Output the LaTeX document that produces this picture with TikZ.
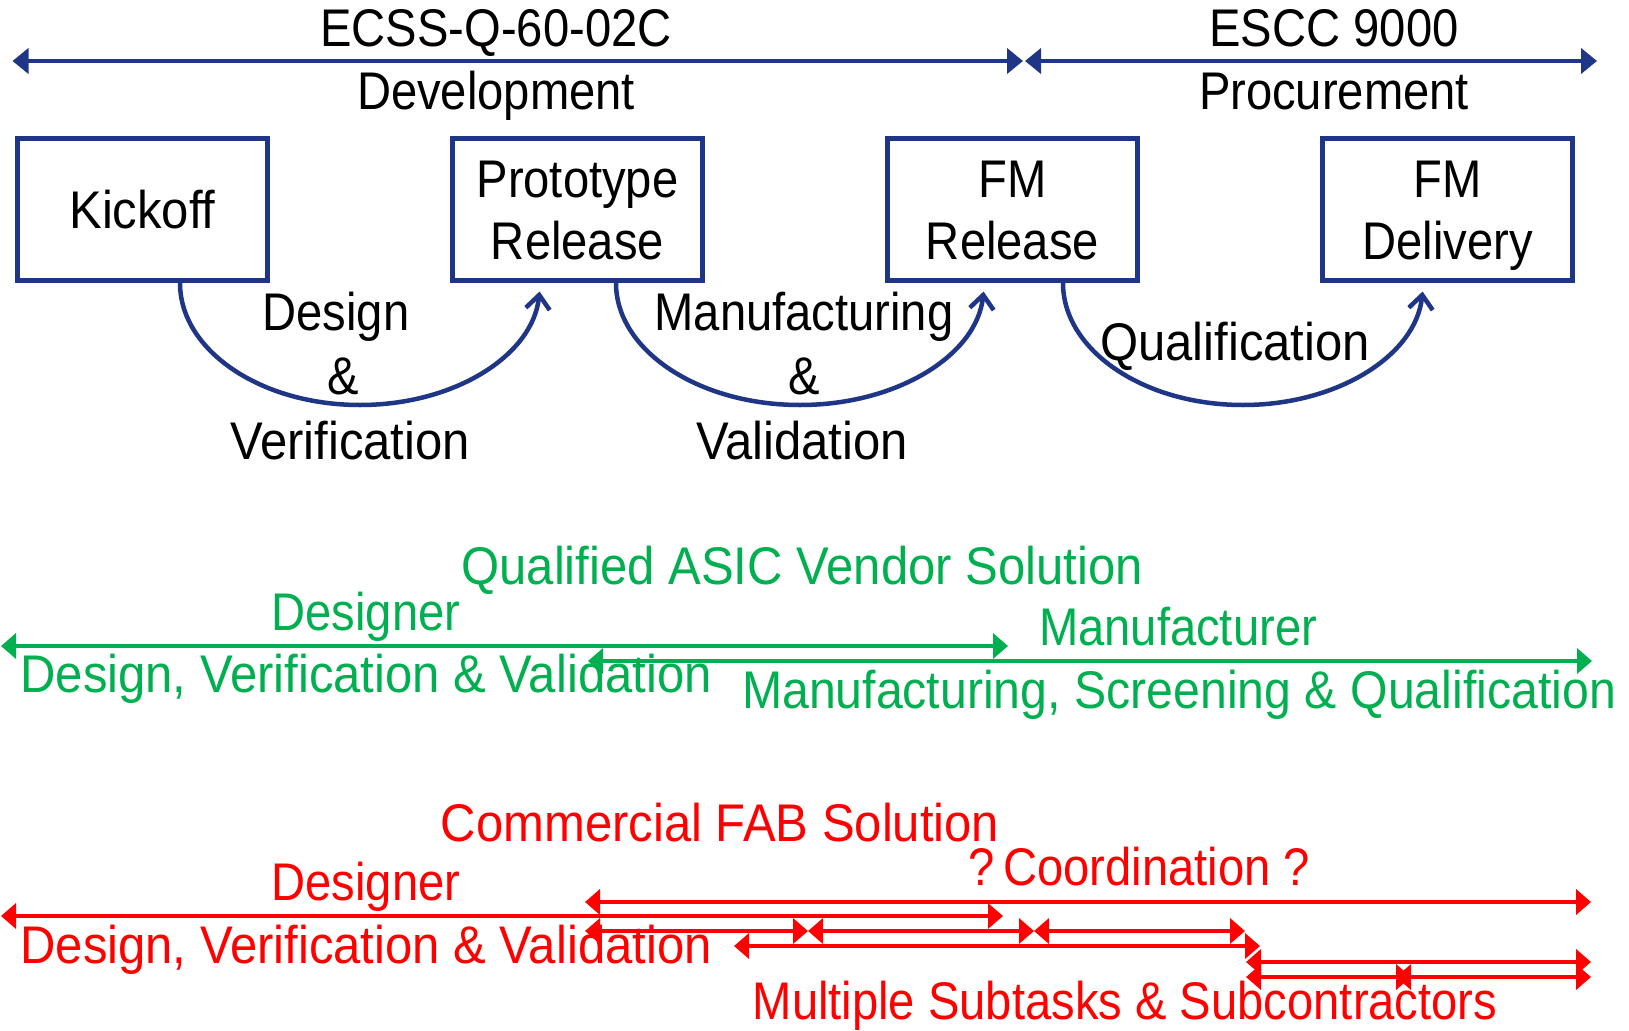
\documentclass[tikz,border=0pt]{standalone}
\usepackage{fontspec}
\setmainfont[FakeStretch=0.89]{Liberation Sans}
\newfontfamily\midfont[FakeStretch=0.91]{Liberation Sans}
\newfontfamily\widefont[FakeStretch=0.925]{Liberation Sans}
\usetikzlibrary{arrows.meta,calc}
\definecolor{navy}{RGB}{31,53,133}
\definecolor{vgreen}{RGB}{0,176,80}
\definecolor{vred}{RGB}{255,0,0}
% line of box text with a fixed cap height and no depth
\newcommand{\capln}[1]{\raisebox{0pt}[38pt][0pt]{#1}}
\begin{document}
\begin{tikzpicture}[x=1pt,y=1pt,
  every node/.style={font=\fontsize{53}{62}\selectfont, inner sep=0pt},
  stagebox/.style={draw=navy, line width=5pt, minimum width=250pt,
    minimum height=142pt, align=center},
  lbl/.style={anchor=base},
  wlbl/.style={anchor=base, font=\fontsize{53}{62}\widefont},
  mlbl/.style={anchor=base, font=\fontsize{53}{62}\midfont},
  spanarrow/.style={line width=4.5pt,
    {Triangle[length=15pt,width=25pt]}-{Triangle[length=15pt,width=25pt]}},
  phasearrow/.style={draw=navy, line width=4pt,
    {Triangle[length=16pt,width=25pt]}-{Triangle[length=16pt,width=25pt]}},
  flowarc/.style={draw=navy, line width=4.5pt,
    -{Straight Barb[length=14pt,width=24pt]}},
]
\useasboundingbox (0,0) rectangle (1629,-1030);
\fill[white] (0,0) rectangle (1629,-1030);

% ---------- standards / phases ----------
\coordinate (devL) at (12.5,-61);
\coordinate (devR) at (1023,-61);
\coordinate (proL) at (1025,-61);
\coordinate (proR) at (1597,-61);
\draw[phasearrow] (devL) -- (devR);
\draw[phasearrow] (proL) -- (proR);
\node[lbl] (ecss) at (496,-47) {ECSS-Q-60-02C};
\node[lbl] (escc) at (1334,-47) {ESCC 9000};
\node[lbl] (dev) at (496,-110) {Development};
\node[lbl] (proc) at (1334,-110) {Procurement};

% ---------- milestones ----------
\node[stagebox, font=\fontsize{53}{62}\widefont] (kick) at (142.5,-209.5) {\capln{Kickoff}};
\node[stagebox] (proto) at (577.5,-209.5)  {\capln{Prototype}\\\capln{Release}};
\node[stagebox] (fmrel) at (1012.5,-209.5) {\capln{FM}\\\capln{Release}};
\node[stagebox] (fmdel) at (1447.5,-209.5) {\capln{FM}\\\capln{Delivery}};

% ---------- activities between milestones ----------
\draw[flowarc] ([xshift=37.5pt]kick.south)
  arc[start angle=180, end angle=356, x radius=180, y radius=122];
\draw[flowarc] ([xshift=38.5pt]proto.south)
  arc[start angle=180, end angle=356, x radius=184, y radius=122];
\draw[flowarc] ([xshift=50.5pt]fmrel.south)
  arc[start angle=180, end angle=356, x radius=180, y radius=122];

\node[lbl] (dv1) at (336,-330) {Design};
\node[lbl] (dv2) at (343,-394) {\&};
\node[wlbl] (dv3) at (350,-459) {Verification};
\node[lbl] (mv1) at (804,-330) {Manufacturing};
\node[lbl] (mv2) at (804,-394) {\&};
\node[wlbl] (mv3) at (802,-459) {Validation};
\node[wlbl] (qual) at (1235,-360) {Qualification};

% ---------- qualified ASIC vendor ----------
\begin{scope}[color=vgreen]
\node[wlbl] (qavs) at (802,-584) {Qualified ASIC Vendor Solution};
\node[lbl] (gdes) at (366,-630) {Designer};
\node[lbl] (gman) at (1178,-645) {Manufacturer};
\node[wlbl] (gdvv) at (366,-692) {Design, Verification \& Validation};
\node[mlbl] (gmsq) at (1179,-708) {Manufacturing, Screening \& Qualification};
\coordinate (g1a) at (1,-646);
\coordinate (g1b) at (1008,-646);
\coordinate (g2a) at (588,-661);
\coordinate (g2b) at (1592,-661);
\draw[spanarrow] (g1a) -- (g1b);
\draw[spanarrow] (g2a) -- (g2b);
\end{scope}

% ---------- commercial fab ----------
\begin{scope}[color=vred]
\node[wlbl] (cfab) at (720,-841) {Commercial FAB Solution};
\node[lbl] (coord) at (1139,-885) {?\,Coordination ?};
\node[lbl] (rdes) at (366,-900) {Designer};
\node[wlbl] (rdvv) at (366,-963) {Design, Verification \& Validation};
\node[lbl] (rsub) at (1125,-1019) {Multiple Subtasks \& Subcontractors};
\coordinate (ra1) at (585,-902);  \coordinate (ra2) at (1591,-902);
\coordinate (rb1) at (1,-916);    \coordinate (rb2) at (1003,-916);
\coordinate (rc1) at (585,-931);  \coordinate (rc2) at (808,-931);
\coordinate (rc3) at (1034,-931); \coordinate (rc4) at (1245,-931);
\coordinate (rd1) at (734,-946);  \coordinate (rd2) at (1260,-946);
\coordinate (re1) at (1246,-962); \coordinate (re2) at (1591,-962);
\coordinate (rf1) at (1246,-977); \coordinate (rf2) at (1411,-977);
\coordinate (rf3) at (1396,-977); \coordinate (rf4) at (1591,-977);
\draw[spanarrow] (ra1) -- (ra2);
\draw[spanarrow] (rb1) -- (rb2);
\draw[spanarrow] (rc1) -- (rc2);
\draw[spanarrow] (rc2) -- (rc3);
\draw[spanarrow] (rc3) -- (rc4);
\draw[spanarrow] (rd1) -- (rd2);
\draw[spanarrow] (re1) -- (re2);
\draw[spanarrow] (rf1) -- (rf2);
\draw[spanarrow] (rf3) -- (rf4);
\end{scope}
\end{tikzpicture}
\end{document}
